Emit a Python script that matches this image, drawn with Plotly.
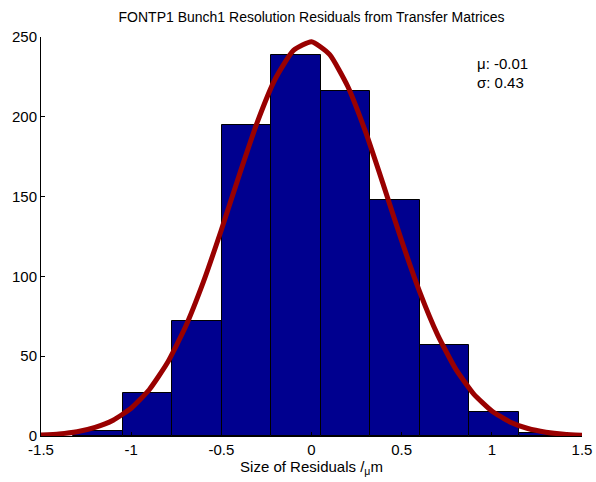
import plotly.graph_objects as go

# Histogram bins
bin_edges = [-1.3225, -1.048, -0.7735, -0.499, -0.2245, 0.05, 0.3245, 0.599, 0.8735, 1.148, 1.4225]
counts = [3, 27, 72, 195, 239, 216, 148, 57, 15, 2]

# Fitted curve points
curve_x = [-1.5, -1.4, -1.3, -1.2, -1.1, -1.0, -0.9, -0.8, -0.7, -0.6, -0.5, -0.4, -0.3, -0.2, -0.1,
           0.0, 0.1, 0.2, 0.3, 0.4, 0.5, 0.6, 0.7, 0.8, 0.9, 1.0, 1.1, 1.2, 1.3, 1.4, 1.5]
curve_y = [0.6, 1.3, 2.7, 5.4, 9.9, 17.4, 29.0, 45.7, 68.1, 96.4, 129.1, 163.7, 196.8, 224.0, 241.6,
           247.0, 239.1, 219.3, 190.5, 156.9, 122.3, 90.3, 63.2, 41.9, 26.3, 15.7, 8.8, 4.7, 2.4, 1.1, 0.5]

stats_text = ["μ: -0.01", "σ: 0.43"]
stats_y = [233.5, 221.6]
title_text = "FONTP1 Bunch1 Resolution Residuals from Transfer Matrices"
xlabel = "Size of Residuals /<sub>μ</sub>m"
x_ticks = [-1.5, -1, -0.5, 0, 0.5, 1, 1.5]
x_ticktext = ["-1.5", "-1", "-0.5", "0", "0.5", "1", "1.5"]
y_ticks = [0, 50, 100, 150, 200, 250]

centers = [(bin_edges[i] + bin_edges[i + 1]) / 2 for i in range(len(counts))]
widths = [bin_edges[i + 1] - bin_edges[i] for i in range(len(counts))]

FONT = "Liberation Sans, Arial, sans-serif"

fig = go.Figure()
fig.add_trace(go.Bar(x=centers, y=counts, width=widths,
                     marker=dict(color="#00008F", line=dict(color="black", width=1)),
                     showlegend=False, hoverinfo="skip"))
fig.add_trace(go.Scatter(x=curve_x, y=curve_y, mode="lines",
                         line=dict(color="#990000", width=5, shape="spline", smoothing=0.5),
                         showlegend=False, hoverinfo="skip"))

for t, yv in zip(stats_text, stats_y):
    fig.add_annotation(x=0.907, y=yv, xref="x", yref="y", text=t, showarrow=False,
                       xanchor="left", yanchor="middle",
                       font=dict(family=FONT, size=15, color="black"))

fig.update_layout(
    width=596, height=482,
    margin=dict(l=41, r=14, t=37, b=46, autoexpand=False),
    paper_bgcolor="white", plot_bgcolor="white",
    bargap=0,
    title=dict(text=title_text, x=(41 + 582) / 2 / 596, xanchor="center", y=1 - 17 / 482, yanchor="middle",
               font=dict(family=FONT, size=14, color="black")),
    font=dict(family=FONT, size=15, color="black"),
    xaxis=dict(range=[-1.5, 1.5], tickvals=x_ticks, ticktext=x_ticktext, automargin=False,
               showgrid=False, zeroline=False, showline=True, linecolor="black", linewidth=1,
               ticks="inside", ticklen=4, tickcolor="black", mirror=False,
               tickfont=dict(family=FONT, size=15),
               title=dict(text=xlabel, font=dict(family=FONT, size=15), standoff=2)),
    yaxis=dict(range=[0, 250], tickvals=y_ticks, showgrid=False, zeroline=False, automargin=False,
               showline=True, linecolor="black", linewidth=1,
               tickfont=dict(family=FONT, size=15),
               ticks="inside", ticklen=4, tickcolor="black", mirror=False),
)

fig.write_html("out.html")
